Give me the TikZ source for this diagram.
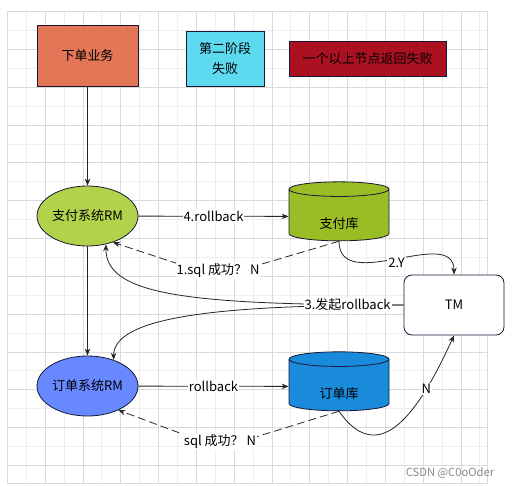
\documentclass[tikz,border=0pt]{standalone}
\usepackage{fontspec}
\setmainfont{Noto Sans CJK SC}
\usetikzlibrary{arrows.meta,shapes.geometric}
\definecolor{gridmajor}{RGB}{218,218,218}
\definecolor{gridminor}{RGB}{238,238,238}
\definecolor{edge}{RGB}{24,24,52}
\definecolor{orderbiz}{RGB}{226,118,86}
\definecolor{phasetwo}{RGB}{94,218,240}
\definecolor{failred}{RGB}{172,17,33}
\definecolor{payrm}{RGB}{178,210,75}
\definecolor{paydb}{RGB}{154,188,36}
\definecolor{orderrm}{RGB}{103,136,255}
\definecolor{orderdb}{RGB}{26,138,219}

\begin{document}
\begin{tikzpicture}[x=1pt,y=-1pt,font=\fontsize{13}{16}\selectfont]
    \tikzstyle{box}=[rectangle,draw=edge,line width=0.8pt,align=center]
    \tikzstyle{rm}=[ellipse,draw=edge,line width=0.8pt,inner xsep=-6pt,minimum width=101pt,minimum height=60pt]
    \tikzstyle{db}=[cylinder,shape border rotate=90,aspect=0.32,draw=edge,line width=0.8pt,minimum width=100pt,minimum height=59pt,text height=26pt,text depth=3pt]
    \tikzstyle{link}=[-{Stealth[length=7pt,width=5.5pt]},line width=0.8pt,draw=black!85]
    \tikzstyle{reply}=[link,dash pattern=on 8pt off 4pt]
    \tikzstyle{tag}=[fill=white,inner sep=1pt]
    \useasboundingbox (0,0) rectangle (515,487);
    % grid
    \foreach \gx in {26.2,64.0,...,487} \draw[gridminor,line width=0.8pt] (\gx,11.7) -- (\gx,483.5);
    \foreach \gy in {30.6,68.4,...,484} \draw[gridminor,line width=0.8pt] (7.3,\gy) -- (487.5,\gy);
    \foreach \gx in {7.3,45.1,...,487} \draw[gridmajor,line width=0.8pt] (\gx,11.7) -- (\gx,483.5);
    \foreach \gy in {11.7,49.5,...,484} \draw[gridmajor,line width=0.8pt] (7.3,\gy) -- (487.5,\gy);
    \draw[gridmajor,line width=0.8pt] (487.5,11.7) -- (487.5,483.5) -- (7.3,483.5);

    \node[box,fill=orderbiz,minimum width=101pt,minimum height=61pt] (biz) at (87.5,55.5) {下单业务};
    \node[box,fill=phasetwo,minimum width=78pt,minimum height=55pt,font=\fontsize{13}{20}\selectfont] (phase) at (225,58.5) {第二阶段\\失败};
    \node[box,fill=failred,minimum width=157pt,minimum height=35pt] (fail) at (367.5,58.5) {一个以上节点返回失败};
    \node[rm,fill=payrm] (payrm) at (87.5,216) {支付系统RM};
    \node[db,fill=paydb] (paydb) at (339,216.5) {支付库};
    \node[box,rounded corners=8pt,fill=white,minimum width=100pt,minimum height=60pt] (tm) at (454,305) {TM};
    \node[rm,fill=orderrm] (orderrm) at (87.5,386) {订单系统RM};
    \node[db,fill=orderdb] (orderdb) at (339,386.5) {订单库};
    \node[text=black!45,font=\fontsize{11.2}{13}\selectfont] (mark) at (450,473) {CSDN @C0oOder};

    \coordinate (payback) at (218,277);
    \coordinate (orderback) at (220,448);

    \draw[link] (biz) -- (payrm);
    \draw[link] (payrm) -- (orderrm);
    \draw[link] (payrm) -- node[tag] {4.rollback} (paydb);
    \draw[reply] (paydb.south) -- (payback) node[tag,yshift=6pt] {1.sql 成功？ N} -- (payrm.-46);
    \draw[link] (paydb.south) .. controls +(0,54) and +(0,-50) .. node[tag,yshift=-3pt] {2.Y} (tm.north);
    \draw[link] (tm.west) .. controls +(-174,0) and +(0,-45) .. (orderrm.45);
    \draw[link] (tm.west) .. controls +(-220,0) and +(0,50) .. node[tag,pos=0.09] {3.发起rollback} (payrm.-57);
    \draw[link] (orderrm) -- node[tag] {rollback} (orderdb);
    \draw[reply] (orderdb.south) -- (orderback) node[tag,yshift=6pt] {sql 成功？ N} -- (orderrm.-38);
    \draw[link] (orderdb.south) .. controls (380,470) and (420,410) .. node[tag,pos=0.74] {N} (tm.south);
  \end{tikzpicture}
\end{document}
